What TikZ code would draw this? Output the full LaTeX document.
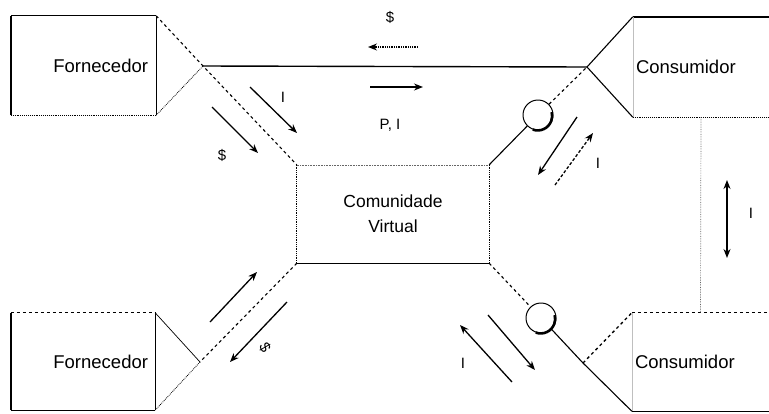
\documentclass[tikz,border=0pt]{standalone}
\usepackage{fontspec}
\setmainfont{Liberation Sans}
\usetikzlibrary{arrows.meta}
\begin{document}
\begin{tikzpicture}[x=1pt,y=-1pt,
  box/.style={rectangle, draw=none, inner sep=0pt, font=\fontsize{18.5}{22}\selectfont},
  ethin/.style={line width=0.7pt},
  ethick/.style={line width=2pt},
  edot/.style={line width=0.9pt, densely dotted},
  efaint/.style={line width=0.5pt, black!25},
  link/.style={line width=1.1pt},
  flow/.style={line width=1.3pt, -{Stealth[length=9pt,width=7pt]}},
  lab/.style={font=\fontsize{15}{17}\selectfont, inner sep=0pt},
  ring/.style={circle, draw, line width=1pt, minimum size=30pt, inner sep=0pt},
]
\useasboundingbox (0,0) rectangle (769,413);

% boxes
\node[box, minimum width=145, minimum height=99, text width=129, inner xsep=8pt, align=right] (fu) at (83.5,65.5) {Fornecedor};
\node[box, minimum width=144, minimum height=97, text width=130, inner xsep=7pt, align=right] (fl) at (83,361.5) {Fornecedor};
\node[box, minimum width=136, minimum height=100, text width=130, inner xsep=3pt, align=left] (cu) at (701,67) {Consumidor};
\node[box, minimum width=137, minimum height=98, text width=131, inner xsep=3pt, align=left] (cl) at (700.5,362) {Consumidor};
\node[box, minimum width=192, minimum height=98, align=center, font=\fontsize{17.5}{25}\selectfont] (cv) at (393,214) {Comunidade\\Virtual};

% box edges
\draw[link] (fu.north west) -- (fu.north east);
\draw[ethick] (fu.north west) -- (fu.south west);
\draw[ethin] (fu.north east) -- (fu.south east);
\draw[edot] (fu.south west) -- (fu.south east);

\draw[link, dashed] (fl.north west) -- (fl.north east);
\draw[ethick] (fl.north west) -- (fl.south west);
\draw[ethin] (fl.north east) -- (fl.south east);
\draw[ethin] (fl.south west) -- (fl.south east);

\draw[line width=1.6pt] (cu.north west) -- (cu.north east);
\draw[efaint] (cu.north west) -- (cu.south west);
\draw[edot] (cu.south west) -- (cu.south east);

\draw[line width=1.2pt, dashed] (cl.north west) -- (cl.north east);
\draw[efaint] (cl.north west) -- (cl.south west);
\draw[ethin] (cl.south west) -- (cl.south east);

\draw[line width=0.6pt, densely dotted, black!60] (cv.north west) -- (cv.north east);
\draw[line width=0.8pt, densely dotted] (cv.north west) -- (cv.south west);
\draw[line width=0.8pt, densely dotted] (cv.north east) -- (cv.south east);
\draw[link] (cv.south west) -- (cv.south east);

% junctions and rings
\coordinate (j1) at (203,66);
\coordinate (j2) at (587,67);
\coordinate (j3) at (200,362);
\coordinate (j4) at (583,363);
\node[ring] (c1) at (538,115) {};
\node[ring] (c2) at (541,318) {};
\draw[line width=2.6pt] (c1.-110) arc[start angle=110, end angle=-15, radius=14.5];
\draw[line width=2.6pt] (c2.-110) arc[start angle=110, end angle=-15, radius=14.5];

% connectors
\draw[link, dashed] (fu.north east) -- (j1) -- (cv.north west);
\draw[line width=0.8pt, densely dotted] (fu.south east) -- (j1);
\draw[line width=1.4pt] (j1) -- (j2);
\draw[link] (j2) -- (cu.north west);
\draw[link] (j2) -- (cu.south west);
\draw[link] (cv.north east) -- (c1);
\draw[link, dashed] (c1) -- (j2);

\draw[link, dashed] (cv.south west) -- (j3);
\draw[ethin] (j3) -- (fl.north east);
\draw[line width=0.8pt, densely dotted] (j3) -- (fl.south east);

\draw[link, dashed] (cv.south east) -- (c2);
\draw[link] (c2) -- (j4);
\draw[line width=1.3pt, dashed] (j4) -- (cl.north west);
\draw[link] (j4) -- (cl.south west);

\draw[line width=0.7pt, densely dotted, black!60] (cu.south) -- (cl.north);

% flow arrows
\coordinate (a1s) at (418,47);  \coordinate (a1e) at (368,47);
\coordinate (a2s) at (370,87);  \coordinate (a2e) at (423,87);
\coordinate (a3s) at (250,87);  \coordinate (a3e) at (297,133);
\coordinate (a4s) at (212,107); \coordinate (a4e) at (258,153);
\coordinate (a5s) at (577,117); \coordinate (a5e) at (538,175);
\coordinate (a6s) at (555,185); \coordinate (a6e) at (593,133);
\coordinate (a7s) at (210,322); \coordinate (a7e) at (257,272);
\coordinate (a8s) at (287,302); \coordinate (a8e) at (230,362);
\coordinate (a9s) at (512,382); \coordinate (a9e) at (460,325);
\coordinate (a10s) at (488,315); \coordinate (a10e) at (535,370);
\coordinate (a11s) at (727,180); \coordinate (a11e) at (727,258);

\draw[flow, densely dotted] (a1s) -- (a1e);
\draw[flow] (a2s) -- (a2e);
\draw[flow] (a3s) -- (a3e);
\draw[flow] (a4s) -- (a4e);
\draw[flow] (a5s) -- (a5e);
\draw[flow, densely dashed] (a6s) -- (a6e);
\draw[flow] (a7s) -- (a7e);
\draw[flow] (a8s) -- (a8e);
\draw[flow] (a9s) -- (a9e);
\draw[flow] (a10s) -- (a10e);
\draw[line width=1.3pt, {Stealth[length=9pt,width=7pt]}-{Stealth[length=9pt,width=7pt]}] (a11s) -- (a11e);

% labels
\node[lab] (l1) at (390,17) {\$};
\node[lab] (l2) at (390,125) {P, I};
\node[lab] (l3) at (283,97) {I};
\node[lab] (l4) at (222,155) {\$};
\node[lab] (l5) at (598,163) {I};
\node[lab, rotate=-60] (l6) at (265,348) {\$};
\node[lab] (l7) at (463,363) {I};
\node[lab] (l8) at (751,213) {I};
\end{tikzpicture}
\end{document}
